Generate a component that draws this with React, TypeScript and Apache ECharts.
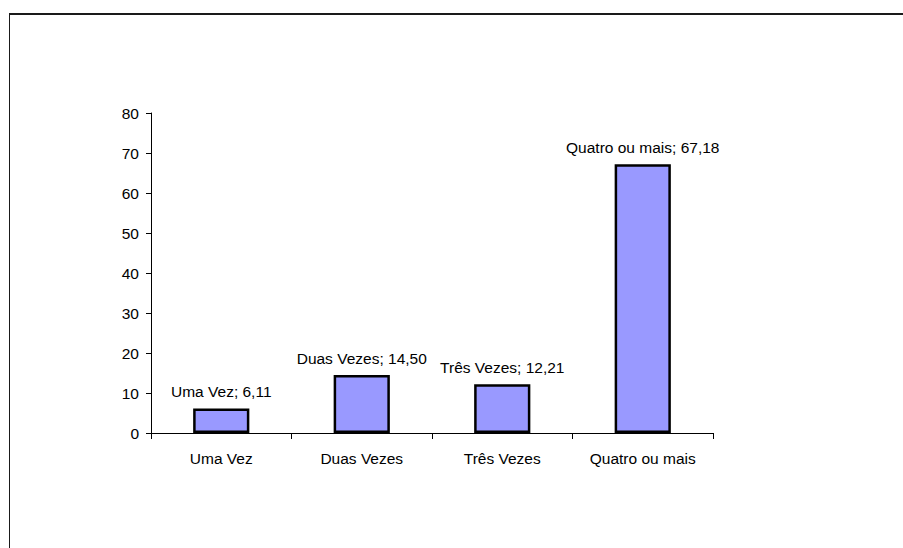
import React, { useEffect, useRef } from "react";
import * as echarts from "echarts";

const categories = ["Uma Vez", "Duas Vezes", "Três Vezes", "Quatro ou mais"];
const values = [6.11, 14.5, 12.21, 67.18];

export default function App() {
  const ref = useRef<HTMLDivElement>(null);
  useEffect(() => {
    if (!ref.current) return;
    const chart = echarts.init(ref.current, null, { renderer: "svg" });
    const font = "Liberation Sans, Arial, sans-serif";
    chart.setOption({
      animation: false,
      backgroundColor: "#ffffff",
      graphic: [
        {
          type: "line",
          shape: { x1: 9, y1: 14, x2: 903, y2: 14 },
          style: { stroke: "#1a1a1a", lineWidth: 2 },
        },
        {
          type: "line",
          shape: { x1: 9.5, y1: 13, x2: 9.5, y2: 548 },
          style: { stroke: "#1a1a1a", lineWidth: 1 },
        },
      ],
      grid: { left: 151, right: 190, top: 113, bottom: 115 },
      xAxis: {
        type: "category",
        data: categories,
        axisLine: { lineStyle: { color: "#000", width: 1 } },
        axisTick: { show: true, length: 6, interval: 0, alignWithLabel: false, lineStyle: { color: "#000" } },
        axisLabel: { color: "#000", fontFamily: font, fontSize: 15.5, margin: 17, interval: 0, hideOverlap: false },
      },
      yAxis: {
        type: "value",
        min: 0,
        max: 80,
        interval: 10,
        splitLine: { show: false },
        axisLine: { show: true, lineStyle: { color: "#000", width: 1 } },
        axisTick: { show: true, length: 5, lineStyle: { color: "#000" } },
        axisLabel: { color: "#000", fontFamily: font, fontSize: 15.5, margin: 12 },
      },
      series: [
        {
          type: "bar",
          data: values,
          barWidth: "40%",
          itemStyle: { color: "#9999FF", borderColor: "#000", borderWidth: 2.5 },
          label: {
            show: true,
            position: "top",
            distance: 9,
            color: "#000",
            fontFamily: font,
            fontSize: 15.5,
            formatter: (p: any) => `${p.name}; ${p.value.toFixed(2).replace(".", ",")}`,
          },
        },
      ],
    });
    return () => chart.dispose();
  }, []);
  return (
    <div
      ref={ref}
      style={{ position: "absolute", left: 0, top: 0, width: 903, height: 548 }}
    />
  );
}
